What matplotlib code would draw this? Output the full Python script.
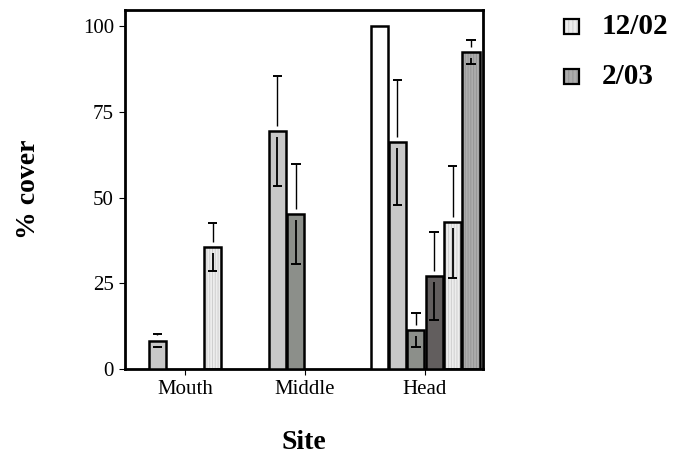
import numpy as np
import matplotlib
matplotlib.use('Agg')
from matplotlib import pyplot as plt
from matplotlib.patches import Rectangle

plt.rcParams['font.family'] = ['Liberation Serif', 'DejaVu Serif']
plt.rcParams['hatch.linewidth'] = 0.7

sites = ['Mouth', 'Middle', 'Head']
nan = np.nan

# six bar series per site (nan = no bar)
cover = [
	[nan, nan, 100.0],
	[8.3, 69.5, 66.1],
	[nan, 45.2, 11.4],
	[nan, nan, 27.1],
	[35.6, nan, 42.9],
	[nan, nan, 92.4],
]
se = [
	[nan, nan, nan],
	[1.9, 16.1, 18.3],
	[nan, 14.5, 5.0],
	[nan, nan, 12.9],
	[7.0, nan, 16.3],
	[nan, nan, 3.5],
]
legend_labels = ['12/02', '2/03']

faces = ['white', '#c8c8c8', '#8c8f8a', '#625e5e', '#ededed', '#adadad']
stripes = [None, None, None, None, '#cfcfcf', '#969696']

fig = plt.figure(figsize=(6.73, 4.57), dpi=100)
ax = fig.add_axes([0.1857, 0.1926, 0.7177 - 0.1857, 0.978 - 0.1926])

x = np.arange(len(sites))
step = 0.153
width = 0.143
gap_up, gap_dn = 1.5, 1.7

for i in range(len(cover)):
	xs = x + (i - 2.5) * step
	vals = np.array(cover[i])
	errs = np.array(se[i])
	ok = ~np.isnan(vals)
	if stripes[i]:
		ax.bar(xs[ok], vals[ok], width, color=faces[i], edgecolor=stripes[i],
			linewidth=0, hatch='||||||', zorder=2)
		ax.bar(xs[ok], vals[ok], width, facecolor='none', edgecolor='black',
			linewidth=1.8, zorder=3)
	else:
		ax.bar(xs[ok], vals[ok], width, color=faces[i], edgecolor='black',
			linewidth=1.8, zorder=3)
	has = ok & ~np.isnan(errs)
	xe, ve, ee = xs[has], vals[has], errs[has]
	# error bars drawn in two pieces, broken at the bar top
	ax.vlines(xe, ve + gap_up, ve + ee, color='black', lw=1.0, zorder=4)
	ax.vlines(xe, ve - gap_dn, ve - ee, color='black', lw=1.3, zorder=4)
	ax.hlines(ve + ee, xe - 0.04, xe + 0.04, color='black', lw=1.4, zorder=4)
	ax.hlines(ve - ee, xe - 0.04, xe + 0.04, color='black', lw=1.4, zorder=4)

ax.set_xlim(-0.5, 2.483)
ax.set_ylim(0, 104.7)
ax.set_yticks([0, 25, 50, 75, 100])
ax.set_xticks(x)
ax.set_xticklabels(sites)
ax.tick_params(labelsize=15, length=4, width=0.8, pad=4)
for s in ax.spines.values():
	s.set_linewidth(2)

ax.set_ylabel('% cover', fontsize=20, fontweight='bold', labelpad=30)
ax.set_xlabel('Site', fontsize=20, fontweight='bold', labelpad=22)

# legend drawn by hand to the right of the axes
for j, (i, lab) in enumerate(zip([4, 5], legend_labels)):
	y0 = 0.9256 - j * 0.1095
	fig.add_artist(Rectangle((0.838, y0), 0.0223, 0.0328, transform=fig.transFigure,
		facecolor=faces[i], edgecolor=stripes[i], hatch='||||', linewidth=0))
	fig.add_artist(Rectangle((0.838, y0), 0.0223, 0.0328, transform=fig.transFigure,
		facecolor='none', edgecolor='black', linewidth=1.6))
	fig.text(0.8945, y0 + 0.0164, lab, fontsize=21, fontweight='bold', va='center')

plt.savefig('out.png', dpi=100)
